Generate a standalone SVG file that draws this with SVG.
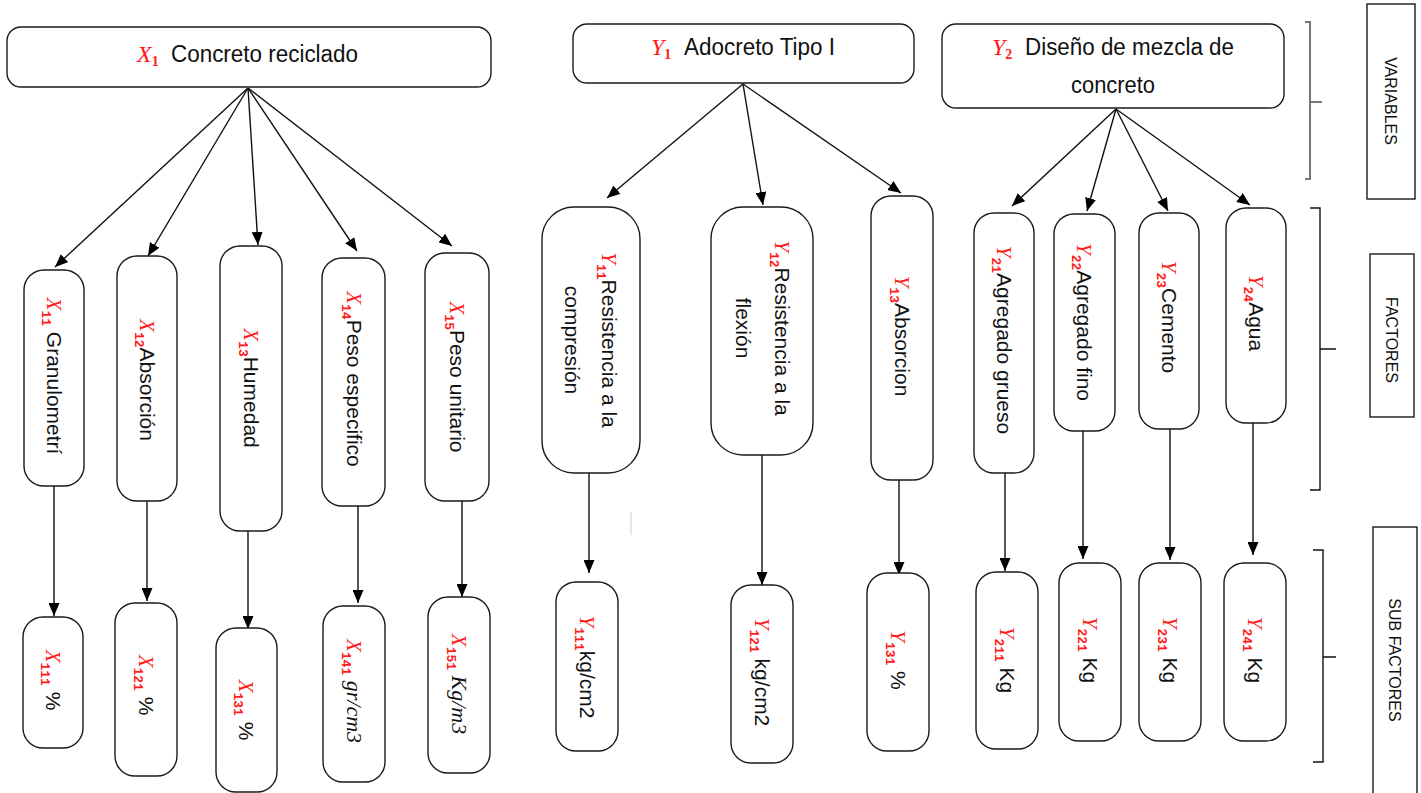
<svg xmlns="http://www.w3.org/2000/svg" width="1421" height="793" viewBox="0 0 1421 793">
<defs>
<marker id="ah" markerUnits="userSpaceOnUse" markerWidth="13" markerHeight="11" viewBox="0 0 13 11" refX="13" refY="5.5" orient="auto"><path d="M0,0 L13,5.5 L0,11 z" fill="#000"/></marker>
<style>
.box{fill:#fff;stroke:#1a1a1a;stroke-width:1.4}
.sq{fill:#fff;stroke:#1a1a1a;stroke-width:1.4}
.lbl{font-family:"Liberation Sans",Arial,sans-serif;font-size:21px;fill:#111}
.ttl{font-family:"Liberation Sans",Arial,sans-serif;font-size:23px;fill:#111}
.side{font-family:"Liberation Sans",Arial,sans-serif;font-size:16px;fill:#111}
.sym{font-family:"Liberation Serif",serif;font-style:italic;font-size:21px;fill:#ff1a1a}
.sub{font-family:"Liberation Mono",monospace;font-weight:bold;font-size:13px;fill:#ff1a1a}
.tsym{font-family:"Liberation Serif",serif;font-style:italic;font-size:24px;fill:#ff1a1a}
.tsub{font-family:"Liberation Serif",serif;font-weight:bold;font-size:14px;fill:#ff1a1a}
.mi{font-family:"Liberation Serif",serif;font-style:italic;font-size:22px;fill:#111}
#connectors line{stroke:#111;stroke-width:1.4;marker-end:url(#ah)}
.brk{fill:none;stroke:#111;stroke-width:1.4}
</style>
</defs>
<rect width="1421" height="793" fill="#fff"/>

<g id="connectors">
<line x1="248" y1="88" x2="55" y2="267"/>
<line x1="248" y1="88" x2="148" y2="256"/>
<line x1="248" y1="88" x2="258" y2="245"/>
<line x1="248" y1="88" x2="357" y2="251"/>
<line x1="248" y1="88" x2="452" y2="246"/>
<line x1="54" y1="486" x2="54" y2="616"/>
<line x1="147" y1="501" x2="147" y2="601"/>
<line x1="248" y1="531" x2="248" y2="629"/>
<line x1="358" y1="506" x2="358" y2="603"/>
<line x1="462" y1="501" x2="462" y2="597"/>
<line x1="743" y1="84" x2="607" y2="198"/>
<line x1="743" y1="84" x2="763" y2="205"/>
<line x1="743" y1="84" x2="901" y2="193"/>
<line x1="589" y1="473" x2="589" y2="573"/>
<line x1="762" y1="455" x2="762" y2="585"/>
<line x1="899" y1="480" x2="899" y2="575"/>
<line x1="1116" y1="109" x2="1012" y2="206"/>
<line x1="1116" y1="109" x2="1087" y2="211"/>
<line x1="1116" y1="109" x2="1168" y2="211"/>
<line x1="1116" y1="109" x2="1250" y2="205"/>
<line x1="1005" y1="473" x2="1005" y2="571"/>
<line x1="1083" y1="431" x2="1083" y2="559"/>
<line x1="1170" y1="429" x2="1170" y2="560"/>
<line x1="1253" y1="423" x2="1253" y2="555"/>
</g>

<g id="X1">
<rect class="box" x="7" y="27" width="484" height="60" rx="14"/>
<text x="137" y="62"><tspan class="tsym">X</tspan><tspan class="tsub" dy="4">1</tspan></text>
<text class="ttl" x="171" y="62" textLength="187" lengthAdjust="spacingAndGlyphs">Concreto reciclado</text>
</g>
<g id="Y1">
<rect class="box" x="573" y="24" width="341" height="59" rx="14"/>
<text x="651" y="55"><tspan class="tsym">Y</tspan><tspan class="tsub" dy="4">1</tspan></text>
<text class="ttl" x="684" y="55" textLength="151" lengthAdjust="spacingAndGlyphs">Adocreto Tipo I</text>
</g>
<g id="Y2">
<rect class="box" x="942" y="24" width="342" height="84" rx="14"/>
<text x="992" y="55"><tspan class="tsym">Y</tspan><tspan class="tsub" dy="4">2</tspan></text>
<text class="ttl" x="1025" y="55" textLength="209" lengthAdjust="spacingAndGlyphs">Diseño de mezcla de</text>
<text class="ttl" x="1071" y="93" textLength="84" lengthAdjust="spacingAndGlyphs">concreto</text>
</g>

<g id="X11">
<rect class="box" x="24" y="270" width="60" height="216" rx="20"/>
<text class="lbl" transform="translate(54,376) rotate(90)" text-anchor="middle" y="7"><tspan class="sym">X</tspan><tspan class="sub" dy="5">11</tspan><tspan dy="-5"> Granulometrí</tspan></text>
</g>
<g id="X12">
<rect class="box" x="117" y="256" width="60" height="245" rx="20"/>
<text class="lbl" transform="translate(147,380) rotate(90)" text-anchor="middle" y="7"><tspan class="sym">X</tspan><tspan class="sub" dy="5">12</tspan><tspan dy="-5">Absorción</tspan></text>
</g>
<g id="X13">
<rect class="box" x="220" y="246" width="62" height="285" rx="20"/>
<text class="lbl" transform="translate(251,388) rotate(90)" text-anchor="middle" y="7"><tspan class="sym">X</tspan><tspan class="sub" dy="5">13</tspan><tspan dy="-5">Humedad</tspan></text>
</g>
<g id="X14">
<rect class="box" x="322" y="258" width="63" height="248" rx="20"/>
<text class="lbl" transform="translate(354,379) rotate(90)" text-anchor="middle" y="7"><tspan class="sym">X</tspan><tspan class="sub" dy="5">14</tspan><tspan dy="-5">Peso especifico</tspan></text>
</g>
<g id="X15">
<rect class="box" x="425" y="253" width="64" height="248" rx="20"/>
<text class="lbl" transform="translate(457,377) rotate(90)" text-anchor="middle" y="7"><tspan class="sym">X</tspan><tspan class="sub" dy="5">15</tspan><tspan dy="-5">Peso unitario</tspan></text>
</g>

<g id="Y11">
<rect class="box" x="542" y="207" width="98" height="266" rx="32"/>
<text class="lbl" transform="translate(591,340) rotate(90)" text-anchor="middle" y="-11"><tspan class="sym">Y</tspan><tspan class="sub" dy="5">11</tspan><tspan dy="-5">Resistencia a la</tspan></text>
<text class="lbl" transform="translate(591,340) rotate(90)" text-anchor="middle" y="26">compresión</text>
</g>
<g id="Y12">
<rect class="box" x="711" y="207" width="102" height="248" rx="32"/>
<text class="lbl" transform="translate(762,328) rotate(90)" text-anchor="middle" y="-13"><tspan class="sym">Y</tspan><tspan class="sub" dy="5">12</tspan><tspan dy="-5">Resistencia a la</tspan></text>
<text class="lbl" transform="translate(762,328) rotate(90)" text-anchor="middle" y="26">flexión</text>
</g>
<g id="Y13">
<rect class="box" x="871" y="196" width="62" height="284" rx="20"/>
<text class="lbl" transform="translate(902,336) rotate(90)" text-anchor="middle" y="7"><tspan class="sym">Y</tspan><tspan class="sub" dy="5">13</tspan><tspan dy="-5">Absorcion</tspan></text>
</g>
<g id="Y21">
<rect class="box" x="974" y="213" width="60" height="260" rx="20"/>
<text class="lbl" transform="translate(1004,340) rotate(90)" text-anchor="middle" y="7"><tspan class="sym">Y</tspan><tspan class="sub" dy="5">21</tspan><tspan dy="-5">Agregado grueso</tspan></text>
</g>
<g id="Y22">
<rect class="box" x="1054" y="214" width="61" height="217" rx="20"/>
<text class="lbl" transform="translate(1084,322) rotate(90)" text-anchor="middle" y="7"><tspan class="sym">Y</tspan><tspan class="sub" dy="5">22</tspan><tspan dy="-5">Agregado fino</tspan></text>
</g>
<g id="Y23">
<rect class="box" x="1139" y="213" width="60" height="216" rx="20"/>
<text class="lbl" transform="translate(1169,317) rotate(90)" text-anchor="middle" y="7"><tspan class="sym">Y</tspan><tspan class="sub" dy="5">23</tspan><tspan dy="-5">Cemento</tspan></text>
</g>
<g id="Y24">
<rect class="box" x="1226" y="208" width="60" height="215" rx="20"/>
<text class="lbl" transform="translate(1256,313) rotate(90)" text-anchor="middle" y="7"><tspan class="sym">Y</tspan><tspan class="sub" dy="5">24</tspan><tspan dy="-5">Agua</tspan></text>
</g>

<g id="X111">
<rect class="box" x="23" y="617" width="60" height="131" rx="20"/>
<text class="lbl" transform="translate(53,680) rotate(90)" text-anchor="middle" y="7"><tspan class="sym">X</tspan><tspan class="sub" dy="5">111</tspan><tspan dy="-5"> %</tspan></text>
</g>
<g id="X121">
<rect class="box" x="115" y="603" width="62" height="173" rx="20"/>
<text class="lbl" transform="translate(146,685) rotate(90)" text-anchor="middle" y="7"><tspan class="sym">X</tspan><tspan class="sub" dy="5">121</tspan><tspan dy="-5"> %</tspan></text>
</g>
<g id="X131">
<rect class="box" x="216" y="628" width="61" height="164" rx="20"/>
<text class="lbl" transform="translate(246,710) rotate(90)" text-anchor="middle" y="7"><tspan class="sym">X</tspan><tspan class="sub" dy="5">131</tspan><tspan dy="-5"> %</tspan></text>
</g>
<g id="X141">
<rect class="box" x="323" y="606" width="62" height="176" rx="20"/>
<text class="lbl" transform="translate(354,691) rotate(90)" text-anchor="middle" y="7"><tspan class="sym">X</tspan><tspan class="sub" dy="5">141</tspan><tspan class="mi" dy="-5"> gr/cm3</tspan></text>
</g>
<g id="X151">
<rect class="box" x="428" y="597" width="62" height="176" rx="20"/>
<text class="lbl" transform="translate(459,684) rotate(90)" text-anchor="middle" y="7"><tspan class="sym">X</tspan><tspan class="sub" dy="5">151</tspan><tspan class="mi" dy="-5"> Kg/m3</tspan></text>
</g>
<g id="Y111">
<rect class="box" x="556" y="582" width="62" height="169" rx="20"/>
<text class="lbl" transform="translate(587,667) rotate(90)" text-anchor="middle" y="7"><tspan class="sym">Y</tspan><tspan class="sub" dy="5">111</tspan><tspan dy="-5">kg/cm2</tspan></text>
</g>
<g id="Y121">
<rect class="box" x="731" y="585" width="62" height="178" rx="20"/>
<text class="lbl" transform="translate(762,672) rotate(90)" text-anchor="middle" y="7"><tspan class="sym">Y</tspan><tspan class="sub" dy="5">121</tspan><tspan dy="-5"> kg/cm2</tspan></text>
</g>
<g id="Y131">
<rect class="box" x="867" y="573" width="62" height="178" rx="20"/>
<text class="lbl" transform="translate(898,660) rotate(90)" text-anchor="middle" y="7"><tspan class="sym">Y</tspan><tspan class="sub" dy="5">131</tspan><tspan dy="-5"> %</tspan></text>
</g>
<g id="Y211">
<rect class="box" x="976" y="572" width="62" height="177" rx="20"/>
<text class="lbl" transform="translate(1007,660) rotate(90)" text-anchor="middle" y="7"><tspan class="sym">Y</tspan><tspan class="sub" dy="5">211</tspan><tspan dy="-5"> Kg</tspan></text>
</g>
<g id="Y221">
<rect class="box" x="1059" y="563" width="62" height="178" rx="20"/>
<text class="lbl" transform="translate(1090,650) rotate(90)" text-anchor="middle" y="7"><tspan class="sym">Y</tspan><tspan class="sub" dy="5">221</tspan><tspan dy="-5"> Kg</tspan></text>
</g>
<g id="Y231">
<rect class="box" x="1139" y="563" width="62" height="178" rx="20"/>
<text class="lbl" transform="translate(1170,650) rotate(90)" text-anchor="middle" y="7"><tspan class="sym">Y</tspan><tspan class="sub" dy="5">231</tspan><tspan dy="-5"> Kg</tspan></text>
</g>
<g id="Y241">
<rect class="box" x="1224" y="563" width="62" height="178" rx="20"/>
<text class="lbl" transform="translate(1255,650) rotate(90)" text-anchor="middle" y="7"><tspan class="sym">Y</tspan><tspan class="sub" dy="5">241</tspan><tspan dy="-5"> Kg</tspan></text>
</g>

<line x1="631" y1="512" x2="631" y2="535" stroke="#cfcfcf" stroke-width="1"/>

<g id="brackets">
<path d="M1305,22 H1310 V179 H1305 M1310,102 H1322" fill="none" stroke="#777" stroke-width="2"/>
<path class="brk" d="M1310,208 H1320 V490 H1310 M1320,349 H1336"/>
<path class="brk" d="M1313,550 H1323 V762 H1313 M1323,657 H1336"/>
</g>
<g id="VARIABLES">
<rect class="sq" x="1367" y="4" width="48" height="195"/>
<text class="side" transform="translate(1391,101) rotate(90)" text-anchor="middle" y="6">VARIABLES</text>
</g>
<g id="FACTORES">
<rect class="sq" x="1370" y="254" width="44" height="163"/>
<text class="side" transform="translate(1392,340) rotate(90)" text-anchor="middle" y="6">FACTORES</text>
</g>
<g id="SUBFACTORES">
<rect class="sq" x="1373" y="527" width="44" height="272"/>
<text class="side" transform="translate(1395,660) rotate(90)" text-anchor="middle" y="6">SUB FACTORES</text>
</g>
</svg>
